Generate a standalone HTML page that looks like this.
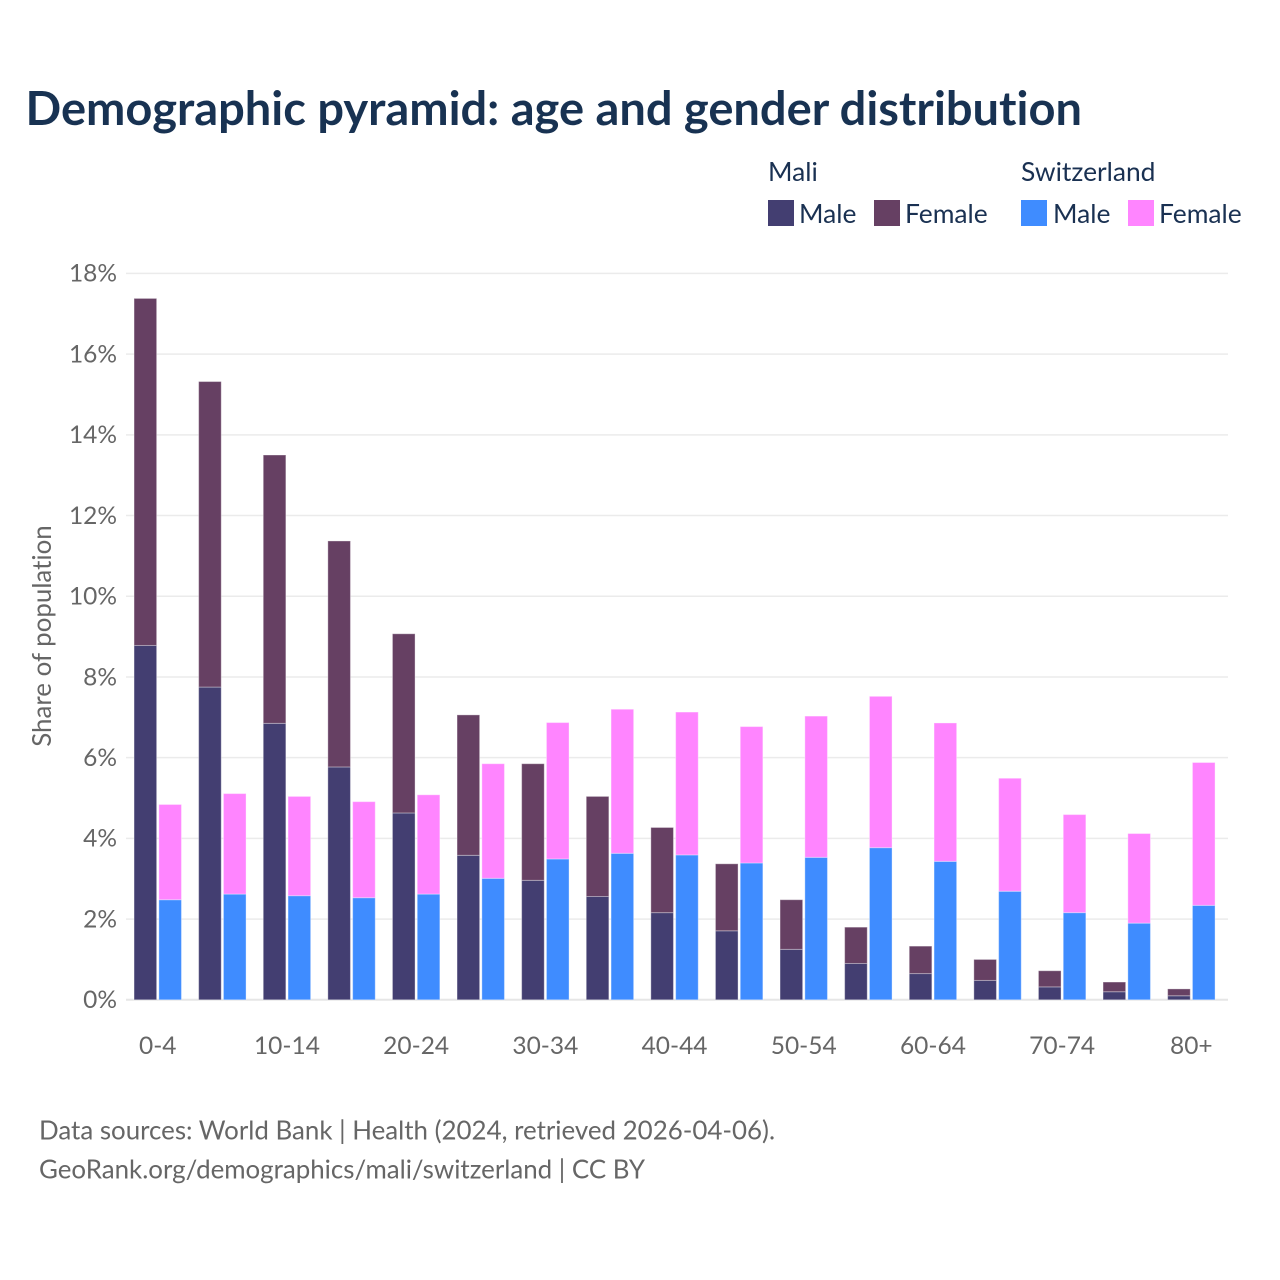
<!DOCTYPE html>
<html lang="en">
<head>
<meta charset="utf-8">
<title>Demographic pyramid: age and gender distribution</title>
<style>
html,body{margin:0;padding:0;background:#fff}
svg{display:block}
text{font-family:"Lato","Carlito","Liberation Sans",sans-serif;font-variant-ligatures:none}
</style>
</head>
<body>
<svg id="chart" xmlns="http://www.w3.org/2000/svg" width="1280" height="1280" viewBox="0 0 1280 1280">
  <rect width="1280" height="1280" fill="#fff"/>
  <text x="25.5" y="125" font-size="47" font-weight="700" fill="#183252">Demographic pyramid: age and gender distribution</text>

  <g font-size="26.4" fill="#1a3152">
    <text x="768" y="181">Mali</text>
    <text x="1021" y="181">Switzerland</text>
    <rect x="768" y="200" width="26" height="26" fill="#433e71"/>
    <text x="799" y="223">Male</text>
    <rect x="874" y="200" width="26" height="26" fill="#664063"/>
    <text x="905" y="223">Female</text>
    <rect x="1021" y="200" width="26" height="26" fill="#3f8cff"/>
    <text x="1053" y="223">Male</text>
    <rect x="1128" y="200" width="26" height="26" fill="#ff85ff"/>
    <text x="1159" y="223">Female</text>
  </g>

  <g id="grid"></g>
  <g id="y-axis"></g>
  <g id="bars"></g>
  <g id="x-axis"></g>

  <text transform="translate(51,636) rotate(-90)" text-anchor="middle" font-size="25.9" fill="#666">Share of population</text>

  <g font-size="25.9" fill="#666">
    <text x="39" y="1139.5">Data sources: World Bank | Health (2024, retrieved 2026-04-06).</text>
    <text x="39" y="1178.5">GeoRank.org/demographics/mali/switzerland | CC BY</text>
  </g>
</svg>
<script>
const ageGroups = ["0-4","5-9","10-14","15-19","20-24","25-29","30-34","35-39","40-44","45-49","50-54","55-59","60-64","65-69","70-74","75-79","80+"];
const visibleAgeLabels = ["0-4","10-14","20-24","30-34","40-44","50-54","60-64","70-74","80+"];
const maliMale = [8.78,7.75,6.85,5.77,4.63,3.58,2.96,2.56,2.16,1.71,1.25,0.90,0.65,0.48,0.32,0.20,0.10];
const maliFemale = [8.60,7.57,6.65,5.60,4.44,3.48,2.89,2.48,2.11,1.66,1.23,0.90,0.68,0.52,0.40,0.24,0.17];
const switzerlandMale = [2.48,2.62,2.58,2.53,2.62,3.01,3.49,3.63,3.59,3.39,3.53,3.77,3.43,2.69,2.16,1.90,2.34];
const switzerlandFemale = [2.36,2.49,2.46,2.38,2.46,2.84,3.38,3.57,3.54,3.38,3.50,3.75,3.43,2.80,2.43,2.22,3.54];
const yTicks = [0,2,4,6,8,10,12,14,16,18];

const SVG_NS = "http://www.w3.org/2000/svg";
const plotLeft = 126, plotRight = 1228, y0 = 999.8, y18 = 273.4;
const firstCenter = 157.75, groupStep = 64.6, barWidth = 22.6, barGap = 2.2;

function yScale(v){ return y0 - (v / 18) * (y0 - y18); }
function xCenter(i){ return firstCenter + i * groupStep; }
function make(tag, attrs){
  const el = document.createElementNS(SVG_NS, tag);
  for (const k in attrs) el.setAttribute(k, attrs[k]);
  return el;
}

const gridG = document.getElementById("grid");
const yAxisG = document.getElementById("y-axis");
yTicks.forEach(function(t){
  const line = make("line", {x1: plotLeft, x2: plotRight, y1: yScale(t), y2: yScale(t), stroke: t === 0 ? "#e6e6e6" : "#ebebeb", "stroke-width": t === 0 ? 2 : 1.5});
  
  
  gridG.appendChild(line);
  const label = make("text", {x: 117, y: yScale(t) + 8.3, "text-anchor": "end", "font-size": 24.5, fill: "#666"});
  
  
  label.textContent = t + "%";
  yAxisG.appendChild(label);
});

function addBar(i, side, base, value, color, name){
  const x = side < 0 ? xCenter(i) - barGap / 2 - barWidth : xCenter(i) + barGap / 2;
  const rect = make("rect", {x: x, y: yScale(base + value), width: barWidth, height: yScale(base) - yScale(base + value), fill: color, stroke: "#fff", "stroke-opacity": 0.35, "stroke-width": 1});
  
  
  document.getElementById("bars").appendChild(rect);
}

ageGroups.forEach(function(age, i){
  addBar(i, -1, 0, maliMale[i], "#433e71", "bar-mali-male-" + age);
  addBar(i, -1, maliMale[i], maliFemale[i], "#664063", "bar-mali-female-" + age);
  addBar(i, 1, 0, switzerlandMale[i], "#3f8cff", "bar-switzerland-male-" + age);
  addBar(i, 1, switzerlandMale[i], switzerlandFemale[i], "#ff85ff", "bar-switzerland-female-" + age);
  if (visibleAgeLabels.indexOf(age) !== -1) {
    const label = make("text", {x: xCenter(i), y: 1054, "text-anchor": "middle", "font-size": 24.5, fill: "#666"});
    
    
    label.textContent = age;
    document.getElementById("x-axis").appendChild(label);
  }
});
</script>
</body>
</html>
